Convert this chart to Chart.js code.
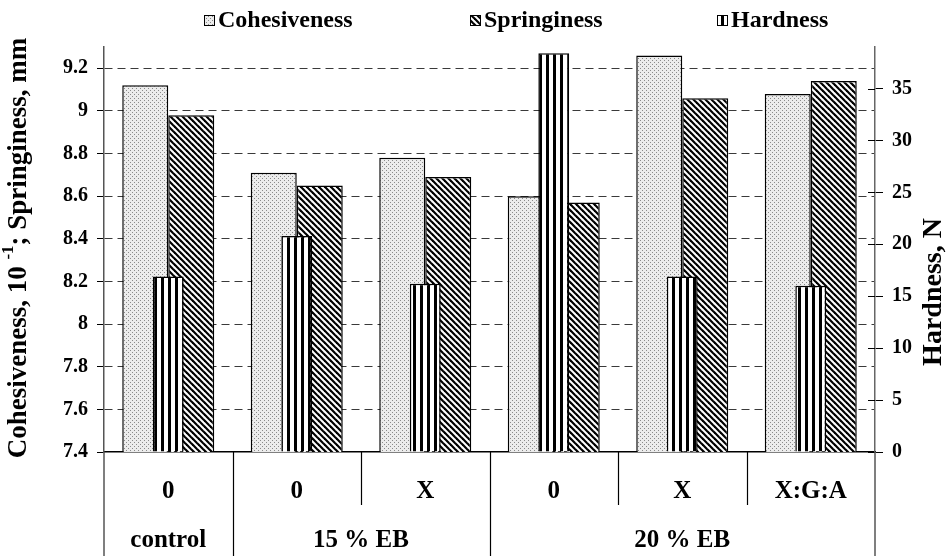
<!DOCTYPE html>
<html>
  <head>
    <title>Texture profile</title>
    <style>
      body {
        background-color: white;
        margin: 0;
        padding: 0;
      }
      .chart-box {
        width: 952px;
        height: 556px;
      }
    </style>
    <script src="https://cdn.jsdelivr.net/npm/chart.js"></script>
  </head>
  <body>
    <div class="chart-box">
      <canvas id="textureChart"></canvas>
    </div>
    <script>
      // data
      const subLabels = ["0", "0", "X", "0", "X", "X:G:A"];
      const groupLabels = ["control", "15 % EB", "20 % EB"];
      const groupSizes = [1, 2, 3];
      const seriesNames = ["Cohesiveness", "Springiness", "Hardness"];
      const cohesiveness = [9.12, 8.71, 8.78, 8.60, 9.26, 9.08];
      const springiness = [8.98, 8.65, 8.69, 8.57, 9.06, 9.14];
      const hardness = [16.9, 20.8, 16.2, 38.4, 16.9, 16.0];
      const leftTicks = [7.4, 7.6, 7.8, 8, 8.2, 8.4, 8.6, 8.8, 9, 9.2];
      const rightTicks = [0, 5, 10, 15, 20, 25, 30, 35];

      const FONT = "'Liberation Serif', 'Times New Roman', serif";

      // fill textures like the old excel bar patterns
      function makePattern(kind) {
        const c = document.createElement("canvas");
        const g = c.getContext("2d");
        if (kind === "dots") {
          c.width = 4; c.height = 4;
          g.fillStyle = "#ececec";
          g.fillRect(0, 0, 4, 4);
          g.fillStyle = "#8a8a8a";
          g.fillRect(0, 0, 1, 1);
          g.fillRect(2, 2, 1, 1);
        } else if (kind === "diag") {
          c.width = 6; c.height = 6;
          g.fillStyle = "#fff";
          g.fillRect(0, 0, 6, 6);
          g.strokeStyle = "#000";
          g.lineWidth = 2.2;
          [-6, 0, 6].forEach(function (off) {
            g.beginPath();
            g.moveTo(-1, -1 + off);
            g.lineTo(7, 7 + off);
            g.stroke();
          });
        } else {
          c.width = 7; c.height = 7;
          g.fillStyle = "#fff";
          g.fillRect(0, 0, 7, 7);
          g.fillStyle = "#000";
          g.fillRect(0, 0, 3, 7);
        }
        return g.createPattern(c, "repeat");
      }

      const dotFill = makePattern("dots");
      const diagFill = makePattern("diag");
      const vertFill = makePattern("vert");
      const fills = [dotFill, diagFill, vertFill];

      const tickFont = { family: FONT, size: 20, weight: "bold" };

      // legend, axis titles, two level category labels
      const decorPlugin = {
        id: "decor",
        afterDraw(chart) {
          const c = chart.ctx;
          const area = chart.chartArea;
          const xs = chart.scales.x;
          const y2 = chart.scales.y2;
          c.save();

          // inner half of the right axis ticks
          c.strokeStyle = "#000";
          c.lineWidth = 1;
          rightTicks.forEach(function (v) {
            const py = Math.round(y2.getPixelForValue(v)) + 0.5;
            c.beginPath();
            c.moveTo(area.right - 7, py);
            c.lineTo(area.right, py);
            c.stroke();
          });

          // legend
          const boxX = [204, 470, 717];
          c.font = "bold 24px " + FONT;
          c.textBaseline = "middle";
          c.textAlign = "left";
          seriesNames.forEach(function (name, i) {
            c.fillStyle = fills[i];
            c.fillRect(boxX[i], 15, 11, 11);
            c.strokeStyle = "#000";
            c.lineWidth = 1;
            c.strokeRect(boxX[i] + 0.5, 15.5, 10, 10);
            c.fillStyle = "#000";
            c.fillText(name, boxX[i] + 14, 21);
          });

          // category labels and separators
          const half = (xs.getPixelForValue(1) - xs.getPixelForValue(0)) / 2;
          c.font = "bold 25px " + FONT;
          c.textAlign = "center";
          subLabels.forEach(function (lab, i) {
            c.fillText(lab, xs.getPixelForValue(i), area.bottom + 40);
          });
          const full = [0];
          groupSizes.forEach(function (n) { full.push(full[full.length - 1] + n); });
          c.strokeStyle = "#000";
          c.lineWidth = 1.2;
          for (let k = 1; k < subLabels.length; k++) {
            const px = Math.round(xs.getPixelForValue(k) - half) + 0.5;
            const isFull = full.indexOf(k) >= 0;
            c.beginPath();
            c.moveTo(px, area.bottom);
            c.lineTo(px, isFull ? chart.height : area.bottom + 53);
            c.stroke();
          }
          groupLabels.forEach(function (lab, gi) {
            const a = xs.getPixelForValue(full[gi]) - half;
            const b = xs.getPixelForValue(full[gi + 1] - 1) + half;
            c.fillText(lab, (a + b) / 2, area.bottom + 89);
          });
          // left and right axis lines carry on down through the label rows
          c.strokeStyle = "#555";
          c.lineWidth = 1.5;
          c.beginPath();
          c.moveTo(area.left, area.bottom);
          c.lineTo(area.left, chart.height);
          c.moveTo(area.right, area.bottom);
          c.lineTo(area.right, chart.height);
          c.stroke();

          // left axis title with superscript
          c.save();
          c.translate(19, 248);
          c.rotate(-Math.PI / 2);
          const bigFont = "bold 27px " + FONT;
          const supFont = "bold 17px " + FONT;
          const p1 = "Cohesiveness, 10 ";
          const p2 = "-1";
          const p3 = "; Springiness, mm";
          c.font = bigFont;
          const w1 = c.measureText(p1).width;
          const w3 = c.measureText(p3).width;
          c.font = supFont;
          const w2 = c.measureText(p2).width;
          let sx = -(w1 + w2 + w3) / 2;
          c.textAlign = "left";
          c.textBaseline = "middle";
          c.fillStyle = "#000";
          c.font = bigFont;
          c.fillText(p1, sx, 0);
          sx += w1;
          c.font = supFont;
          c.fillText(p2, sx, -10);
          sx += w2;
          c.font = bigFont;
          c.fillText(p3, sx, 0);
          c.restore();

          // right axis title
          c.save();
          c.translate(934, 292);
          c.rotate(-Math.PI / 2);
          c.font = "bold 28px " + FONT;
          c.textAlign = "center";
          c.textBaseline = "middle";
          c.fillStyle = "#000";
          c.fillText("Hardness, N", 0, 0);
          c.restore();

          c.restore();
        }
      };

      const chartElement = document.getElementById("textureChart");
      const textureChart = new Chart(chartElement, {
        type: "bar",
        data: {
          labels: subLabels,
          datasets: [
            {
              label: seriesNames[0],
              data: cohesiveness,
              backgroundColor: dotFill,
              borderColor: "#000",
              borderWidth: 1.5,
              yAxisID: "y",
              order: 1,
              barPercentage: 1,
              categoryPercentage: 0.716
            },
            {
              label: seriesNames[1],
              data: springiness,
              backgroundColor: diagFill,
              borderColor: "#000",
              borderWidth: 1.5,
              yAxisID: "y",
              order: 1,
              barPercentage: 1,
              categoryPercentage: 0.716
            },
            {
              // hardness sits centred over the other two, on its own axis
              label: seriesNames[2],
              data: hardness,
              backgroundColor: vertFill,
              borderColor: "#000",
              borderWidth: 1.5,
              yAxisID: "y2",
              order: 0,
              grouped: false,
              barPercentage: 0.30
            }
          ]
        },
        options: {
          responsive: true,
          maintainAspectRatio: false,
          animation: false,
          layout: { padding: { top: 47 } },
          plugins: {
            legend: { display: false },
            tooltip: { enabled: false }
          },
          scales: {
            x: {
              position: "bottom",
              grid: { display: false, drawTicks: false },
              border: { color: "#000", width: 1.5 },
              ticks: { display: false },
              afterFit: function (s) { s.height = 104; }
            },
            y: {
              position: "left",
              min: 7.4,
              max: 9.3,
              afterBuildTicks: function (s) {
                s.ticks = leftTicks.map(function (v) { return { value: v }; });
              },
              ticks: {
                font: tickFont,
                color: "#000",
                padding: 9,
                callback: function (v) { return String(+v.toFixed(1)); }
              },
              grid: {
                color: function (ctx) {
                  return ctx.tick && ctx.tick.value === 7.4 ? "rgba(0,0,0,0)" : "#3a3a3a";
                },
                lineWidth: 1,
                tickLength: 7,
                tickColor: "#000"
              },
              border: { color: "#555", width: 1.5, dash: [8, 5] },
              afterFit: function (s) { s.width = 104; }
            },
            y2: {
              position: "right",
              min: 0,
              max: 39,
              afterBuildTicks: function (s) {
                s.ticks = rightTicks.map(function (v) { return { value: v }; });
              },
              ticks: {
                font: tickFont,
                color: "#000",
                padding: 9
              },
              grid: {
                drawOnChartArea: false,
                tickLength: 8,
                tickColor: "#000"
              },
              border: { color: "#666", width: 1.5 },
              afterFit: function (s) { s.width = 77; }
            }
          }
        },
        plugins: [decorPlugin]
      });
    </script>
  </body>
</html>
